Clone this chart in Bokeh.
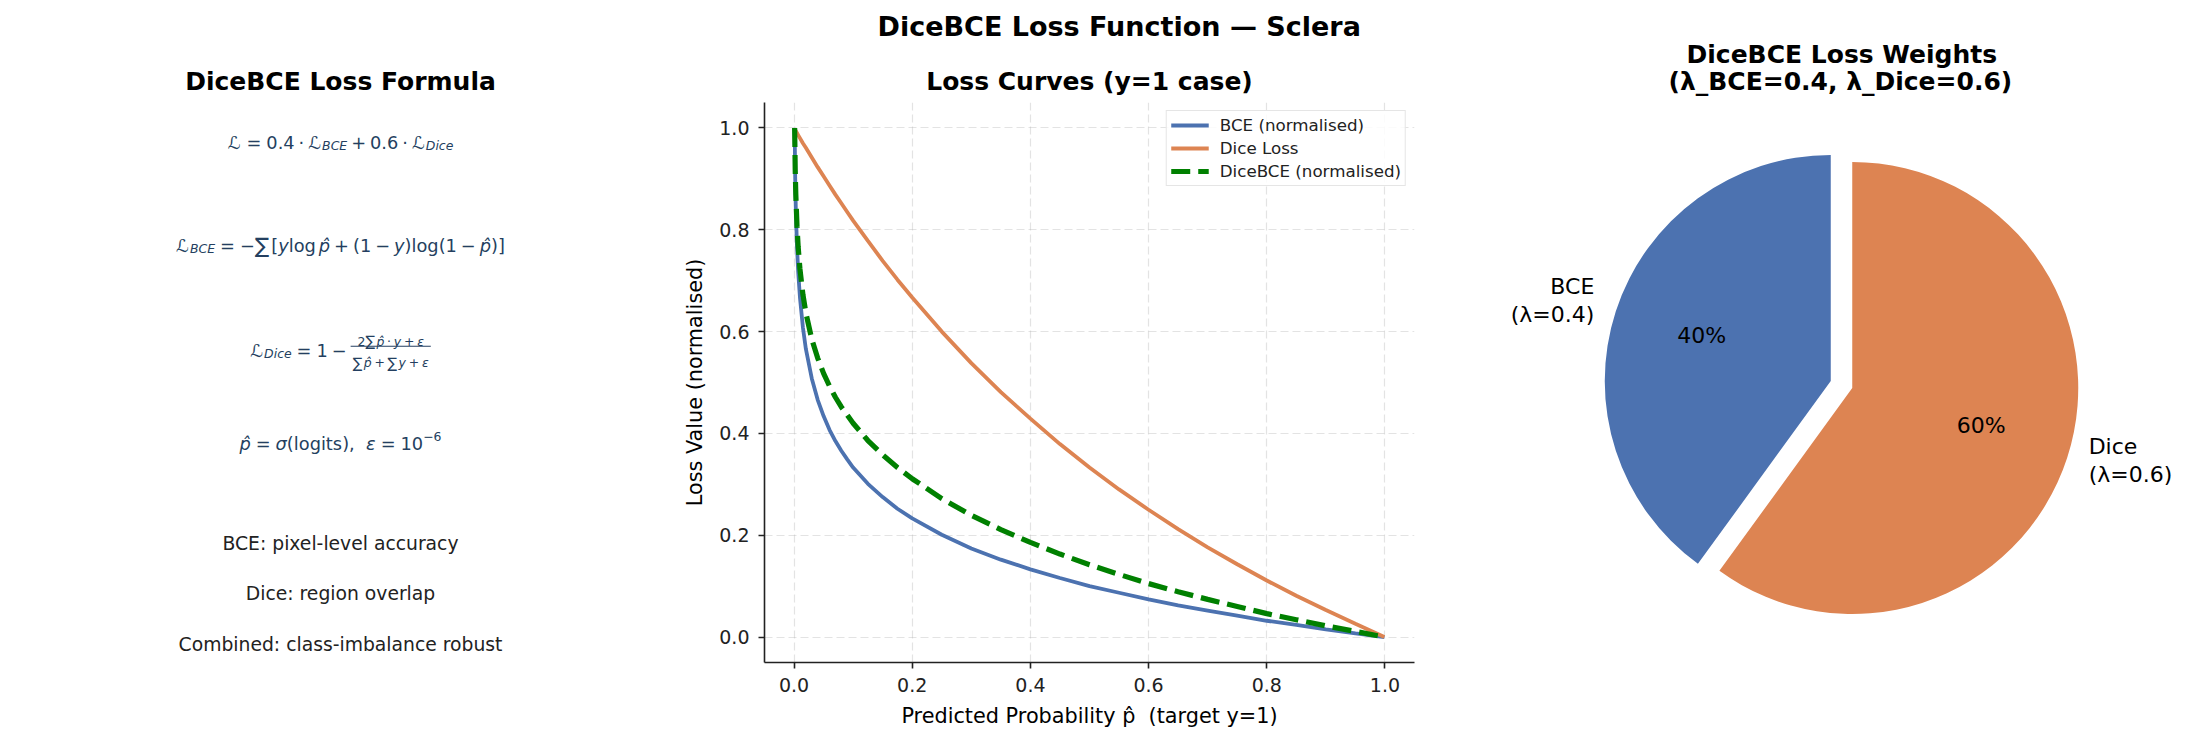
import numpy as np
from bokeh.plotting import figure
from bokeh.layouts import row
from bokeh.models import Range1d, Title, FixedTicker, PrintfTickFormatter, ColumnDataSource
from bokeh.core.properties import value
from bokeh.embed import file_html
from bokeh.resources import INLINE

# ---------------------------------------------------------------- data
P_HAT = [0.001, 0.002, 0.003, 0.005, 0.007, 0.01, 0.015, 0.02, 0.03, 0.04,
         0.05, 0.06, 0.07, 0.08, 0.09, 0.1, 0.125, 0.15, 0.175, 0.2,
         0.25, 0.3, 0.35, 0.4, 0.45, 0.5, 0.55, 0.6, 0.65, 0.7,
         0.75, 0.8, 0.85, 0.9, 0.95, 0.999]
BCE_NORM = [1.000, 0.900, 0.841, 0.767, 0.718, 0.667, 0.608, 0.566, 0.508, 0.466,
            0.434, 0.407, 0.385, 0.366, 0.349, 0.333, 0.301, 0.275, 0.252, 0.233,
            0.201, 0.174, 0.152, 0.133, 0.116, 0.100, 0.087, 0.074, 0.062, 0.052,
            0.042, 0.032, 0.024, 0.015, 0.007, 0.000]
DICE_LOSS = [0.998, 0.996, 0.994, 0.990, 0.986, 0.980, 0.970, 0.961, 0.942, 0.923,
             0.905, 0.887, 0.869, 0.852, 0.835, 0.818, 0.778, 0.739, 0.702, 0.667,
             0.600, 0.538, 0.481, 0.429, 0.379, 0.333, 0.290, 0.250, 0.212, 0.176,
             0.143, 0.111, 0.081, 0.053, 0.026, 0.000]
DICEBCE_NORM = [1.000, 0.917, 0.869, 0.807, 0.766, 0.723, 0.673, 0.637, 0.585, 0.548,
                0.518, 0.493, 0.471, 0.452, 0.436, 0.420, 0.386, 0.358, 0.333, 0.311,
                0.272, 0.239, 0.211, 0.186, 0.163, 0.142, 0.123, 0.105, 0.089, 0.074,
                0.060, 0.046, 0.034, 0.022, 0.011, 0.000]

AXIS_TICKS = [0.0, 0.2, 0.4, 0.6, 0.8, 1.0]

WEIGHT_NAMES = ["BCE", "Dice"]
WEIGHTS = [0.4, 0.6]

NOTES = ["BCE: pixel-level accuracy", "Dice: region overlap",
         "Combined: class-imbalance robust"]

# ---------------------------------------------------------------- style
FONT = "DejaVu Sans"
H = 742
TOP, BOTTOM = 102, 80          # frame borders of the three panels (page rows)
LIFT_PAGE = 12                 # extra headroom above the page for the title stack
FIG_H = H + LIFT_PAGE
BLUE = "#4C72B0"
ORANGE = "#DD8452"
GREEN = "#008000"
INK = "#243f60"
DARK = "#222222"


def add_title(f, text, size, standoff, align="center", offset=0):
    f.add_layout(Title(text=text, align=align, offset=offset, standoff=standoff,
                       text_font=FONT, text_font_size=size, text_font_style="bold",
                       text_color="black"), "above")


def panel(width):
    # frame spans page rows TOP..H-BOTTOM; one data unit == one pixel
    f = figure(width=width, height=FIG_H, x_range=Range1d(0, width),
               y_range=Range1d(BOTTOM, H - TOP), output_backend="svg",
               toolbar_location=None, title=None, x_axis_type=None, y_axis_type=None,
               min_border_left=0, min_border_right=0,
               min_border_top=TOP + LIFT_PAGE, min_border_bottom=BOTTOM)
    f.grid.visible = False
    f.outline_line_color = None
    return f


def put(f, x, y_down, text, size, style="normal", color=INK, align="left",
        baseline="alphabetic"):
    f.text(x=[x], y=[H - y_down], text=[text], text_font=value(FONT),
           text_font_size=f"{size:.2f}px", text_font_style=style, text_color=color,
           text_align=align, text_baseline=baseline)


# ---------------------------------------------------------------- formula panel
left = panel(680)
add_title(left, "DiceBCE Loss Formula", "25px", 12.3)

EM = 17.8
ADV = {" ": .318, ".": .318, ",": .318, "=": .838, "+": .838, "−": .838, "·": .318,
       "(": .390, ")": .390, "[": .390, "]": .390, "l": .278, "o": .612, "g": .635,
       "i": .278, "t": .392, "s": .521, "c": .550, "e": .615, "y": .592, "p": .635,
       "B": .686, "C": .698, "E": .632, "D": .770, "σ": .634, "ε": .541, "∑": .769,
       "ℒ": .780}
ADV.update({d: .636 for d in "0123456789"})
GAP = {"thick": 5 / 18, "med": 4 / 18, "thin": 3 / 18, "sp": .318,
       "smed": .7 * 4 / 18}
KIND = {"n": (1.0, "normal", 0.0), "i": (1.0, "italic", 0.0),
        "sub": (0.7, "italic", -3.2), "sup": (0.7, "normal", 7.0),
        "big": (1.2, "normal", 0.0), "sn": (0.7, "normal", 0.0),
        "si": (0.7, "italic", 0.0), "sbig": (0.8, "normal", 0.0)}


def adv(s):
    return sum(ADV.get(c, .6) for c in s if c != "\u0302")


def width_of(items):
    w = 0.0
    for it in items:
        if isinstance(it, str):
            w += GAP[it] * EM
        elif it[0] == "frac":
            w += max(width_of(it[1]), width_of(it[2])) + 0.24 * EM
        else:
            w += adv(it[0]) * EM * KIND[it[1]][0]
    return w


def draw(items, x, base):
    for it in items:
        if isinstance(it, str):
            x += GAP[it] * EM
        elif it[0] == "frac":
            wn, wd = width_of(it[1]), width_of(it[2])
            wf = max(wn, wd) + 0.24 * EM
            draw(it[1], x + (wf - wn) / 2, base - 9.0)
            draw(it[2], x + (wf - wd) / 2, base + 12.7)
            left.segment(x0=[x], y0=[H - (base - 3.8)], x1=[x + wf],
                         y1=[H - (base - 3.8)], line_color=INK, line_width=1.1)
            x += wf
        else:
            scale, style, dy = KIND[it[1]]
            put(left, x, base - dy, it[0], EM * scale, style)
            x += adv(it[0]) * EM * scale
    return x


def formula(items, base, center=340):
    draw(items, center - width_of(items) / 2, base)


P = ("p\u0302", "i")
P_S = ("p\u0302", "si")

formula([("ℒ", "n"), "thick", ("=", "n"), "thick", ("0.4", "n"), "med", ("·", "n"),
         "med", ("ℒ", "n"), ("BCE", "sub"), "med", ("+", "n"), "med", ("0.6", "n"),
         "med", ("·", "n"), "med", ("ℒ", "n"), ("Dice", "sub")], 141.5)

formula([("ℒ", "n"), ("BCE", "sub"), "thick", ("=", "n"), "thick", ("−", "n"),
         ("∑", "big"), ("[", "n"), ("y", "i"), ("log", "n"), "thin", P, "med",
         ("+", "n"), "med", ("(", "n"), ("1", "n"), "med", ("−", "n"), "med",
         ("y", "i"), (")", "n"), ("log", "n"), ("(", "n"), ("1", "n"), "med",
         ("−", "n"), "med", P, (")", "n"), ("]", "n")], 244.5)

NUM = [("2", "sn"), ("∑", "sbig"), P_S, "smed", ("·", "sn"), "smed", ("y", "si"),
       "smed", ("+", "sn"), "smed", ("ε", "si")]
DEN = [("∑", "sbig"), P_S, "smed", ("+", "sn"), "smed", ("∑", "sbig"), ("y", "si"),
       "smed", ("+", "sn"), "smed", ("ε", "si")]
formula([("ℒ", "n"), ("Dice", "sub"), "thick", ("=", "n"), "thick", ("1", "n"), "med",
         ("−", "n"), "med", ("frac", NUM, DEN)], 349.5)

formula([P, "thick", ("=", "n"), "thick", ("σ", "i"), ("(", "n"), ("logits", "n"),
         (")", "n"), (",", "n"), "sp", "sp", ("ε", "i"), "thick", ("=", "n"), "thick",
         ("10", "n"), ("−6", "sup")], 443.0)

for note, yd in zip(NOTES, [543, 593, 644]):
    put(left, 340, yd, note, 18.75, "normal", DARK, "center", "middle")

# ---------------------------------------------------------------- loss curves
mid = figure(width=770, height=FIG_H, x_range=Range1d(-0.05, 1.05),
             y_range=Range1d(-0.05, 1.05), output_backend="svg",
             toolbar_location=None, title=None,
             min_border_left=83, min_border_right=36,
             min_border_top=TOP + LIFT_PAGE, min_border_bottom=BOTTOM)
mid.outline_line_color = None
add_title(mid, "Loss Curves (y=1 case)", "25px", 12.3)
add_title(mid, "DiceBCE Loss Function — Sclera", "27px", 34.8, align="left", offset=113)

src = ColumnDataSource(dict(p=P_HAT, bce=BCE_NORM, dice=DICE_LOSS, mix=DICEBCE_NORM))
mid.line("p", "bce", source=src, line_color=BLUE, line_width=3.8,
         legend_label="BCE (normalised)")
mid.line("p", "dice", source=src, line_color=ORANGE, line_width=3.8,
         legend_label="Dice Loss")
mid.line("p", "mix", source=src, line_color=GREEN, line_width=5.2,
         line_dash="19 8", legend_label="DiceBCE (normalised)")

for ax in (mid.xaxis, mid.yaxis):
    ax.ticker = FixedTicker(ticks=AXIS_TICKS)
    ax.formatter = PrintfTickFormatter(format="%.1f")
    ax.axis_line_color = DARK
    ax.axis_line_width = 1.6
    ax.major_tick_line_color = DARK
    ax.major_tick_line_width = 1.6
    ax.major_tick_out = 6
    ax.major_tick_in = 0
    ax.minor_tick_line_color = None
    ax.major_label_text_font = FONT
    ax.major_label_text_font_size = "19px"
    ax.major_label_text_color = DARK
    ax.major_label_standoff = 9
    ax.axis_label_text_font = FONT
    ax.axis_label_text_font_size = "20.8px"
    ax.axis_label_text_font_style = "normal"
    ax.axis_label_text_color = "black"
    ax.axis_label_standoff = 9
mid.xaxis.axis_label = "Predicted Probability p̂ \u00a0(target y=1)"
mid.yaxis.axis_label = "Loss Value (normalised)"

for g in (mid.xgrid, mid.ygrid):
    g.grid_line_color = "#b8b8b8"
    g.grid_line_alpha = 0.4
    g.grid_line_width = 1.2
    g.grid_line_dash = "8 4"

lg = mid.legend[0]
lg.location = "top_right"
lg.margin = 8
lg.padding = 4
lg.spacing = 3
lg.label_height = 20
lg.glyph_height = 20
lg.glyph_width = 38
lg.label_standoff = 11
lg.label_text_font = FONT
lg.label_text_font_size = "16.7px"
lg.label_text_color = DARK
lg.border_line_color = "#cccccc"
lg.border_line_width = 1.2
lg.background_fill_alpha = 0.85

# ---------------------------------------------------------------- weights pie
right = panel(737)
add_title(right, f"(λ_BCE={WEIGHTS[0]}, λ_Dice={WEIGHTS[1]})", "25px", 12.3,
          align="left", offset=218)
add_title(right, "DiceBCE Loss Weights", "25px", -18.7, align="left", offset=236)

CX, CY, R = 391, H - 384, 226
EXPLODE = 0.05
LIFT = 4        # optical centring of the pie's text labels

w = np.array(WEIGHTS, dtype=float)
frac = w / w.sum()
start = np.pi / 2 + 2 * np.pi * np.concatenate([[0], np.cumsum(frac)[:-1]])
end = start + 2 * np.pi * frac
midang = (start + end) / 2
cx = CX + EXPLODE * R * np.cos(midang)
cy = CY + EXPLODE * R * np.sin(midang)

right.wedge(x=cx, y=cy, radius=R, start_angle=start, end_angle=end,
            fill_color=[BLUE, ORANGE], line_color=None)

for name, wt, a, x0, y0 in zip(WEIGHT_NAMES, WEIGHTS, midang, cx, cy):
    lx = x0 + 1.1 * R * np.cos(a)
    ly = y0 + 1.1 * R * np.sin(a) + LIFT
    align = "right" if np.cos(a) < 0 else "left"
    for k, line in enumerate([name, f"(λ={wt})"]):
        right.text(x=[lx], y=[ly + 14 - 28 * k], text=[line], text_font=value(FONT),
                   text_font_size="22px", text_color="black", text_align=align,
                   text_baseline="middle")
    right.text(x=[x0 + 0.6 * R * np.cos(a)], y=[y0 + 0.6 * R * np.sin(a) + LIFT],
               text=[f"{wt * 100:.0f}%"], text_font=value(FONT),
               text_font_size="22px", text_color="black", text_align="center",
               text_baseline="middle")

layout = row(left, mid, right, spacing=0, styles={"margin-top": f"-{LIFT_PAGE}px"})
open("out.html", "w").write(file_html(layout, INLINE, title="DiceBCE Loss Function"))
